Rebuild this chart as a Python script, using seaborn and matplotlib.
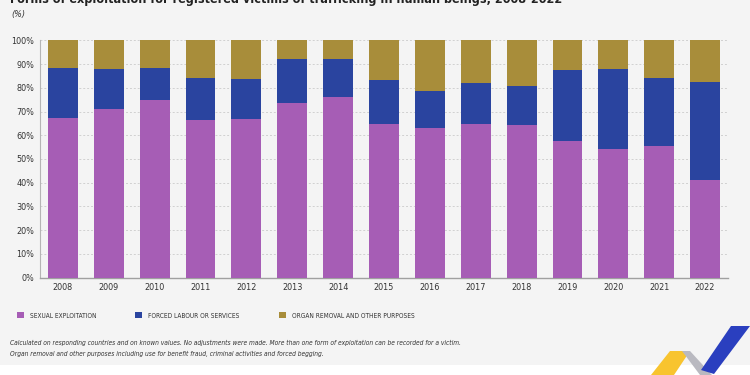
import numpy as np
import pandas as pd
import matplotlib
matplotlib.use('Agg')
import matplotlib.pyplot as plt
from matplotlib.patches import Polygon, Rectangle, Patch
import seaborn as sns

# --- data (% of registered victims) ---
years = ['2008', '2009', '2010', '2011', '2012', '2013', '2014', '2015',
         '2016', '2017', '2018', '2019', '2020', '2021', '2022']
sexual = [67.4, 71.2, 74.9, 66.4, 66.7, 73.5, 76.0, 64.7, 62.9, 64.6, 64.2, 57.6, 54.1, 55.5, 41.2]
forced = [20.8, 16.7, 13.6, 17.6, 17.0, 18.5, 16.1, 18.6, 15.7, 17.3, 16.6, 29.9, 33.9, 28.5, 41.1]
other = [11.8, 12.1, 11.5, 16.0, 16.3, 8.0, 7.9, 16.7, 21.4, 18.1, 19.2, 12.5, 12.0, 16.0, 17.7]
series = ['SEXUAL EXPLOITATION', 'FORCED LABOUR OR SERVICES', 'ORGAN REMOVAL AND OTHER PURPOSES']
colors = ['#a65db5', '#2a449f', '#a88d3a']

title = 'Forms of exploitation for registered victims of trafficking in human beings, 2008-2022'
unit = '(%)'
note1 = ('Calculated on responding countries and on known values. No adjustments were made. '
         'More than one form of exploitation can be recorded for a victim.')
note2 = 'Organ removal and other purposes including use for benefit fraud, criminal activities and forced begging.'

sns.set_style('white')
plt.rcParams['font.family'] = ['DejaVu Sans']
plt.rcParams['font.stretch'] = 'condensed'
bg = '#f4f4f4'

df = pd.DataFrame({'year': years, 'sexual': sexual, 'forced': forced, 'other': other})
df['lvl1'] = df['sexual']
df['lvl2'] = df['sexual'] + df['forced']
df['lvl3'] = df['lvl2'] + df['other']

fig = plt.figure(figsize=(7.5, 3.75), dpi=100, facecolor=bg)
ax = fig.add_axes([40 / 750, 1 - 277.7 / 375, 688 / 750, 237.4 / 375])
ax.set_facecolor(bg)

# stacked bars: draw cumulative totals from the top down
for col, c in zip(['lvl3', 'lvl2', 'lvl1'], colors[::-1]):
    sns.barplot(data=df, x='year', y=col, color=c, width=0.65, saturation=1,
                linewidth=0, ax=ax, zorder=3)

ax.set_xlim(-0.5, len(years) - 0.5)
ax.set_ylim(0, 100)
ax.set_yticks(np.arange(0, 101, 10))
ax.set_yticklabels([f'{v}%' for v in range(0, 101, 10)])
ax.set_xlabel('')
ax.set_ylabel('')
ax.yaxis.grid(True, color='#d0d0d0', linestyle=(0, (2, 2)), linewidth=0.7, zorder=0)
ax.tick_params(axis='both', length=0, labelsize=6.5, colors='#333333', pad=4)
for s in ['top', 'right']:
    ax.spines[s].set_visible(False)
ax.spines['left'].set_color('#b5b5b5')
ax.spines['left'].set_linewidth(0.8)
ax.spines['bottom'].set_color('#a0a0a0')
ax.spines['bottom'].set_linewidth(1.0)

# title (partly cut off at the top in the reference) and unit
fig.text(10 / 750, 1 - 2.7 / 375, title, fontsize=9, fontweight='bold',
         color='#222222', va='baseline', ha='left')
fig.text(11 / 750, 1 - 14 / 375, unit, fontsize=6.5, style='italic',
         color='#333333', va='center', ha='left')

# legend
handles = [Patch(facecolor=c, edgecolor='none') for c in colors]
fig.legend(handles, series, loc='center left', bbox_to_anchor=(11 / 750, 1 - 315.5 / 375),
           ncol=3, frameon=False, fontsize=4.7, handlelength=1.07, handleheight=1.07,
           handletextpad=0.9, columnspacing=6.0, labelcolor='#333333')

# footnotes
fig.text(10 / 750, 1 - 342.5 / 375, note1, fontsize=4.8, style='italic', color='#333333', va='center')
fig.text(10 / 750, 1 - 354 / 375, note2, fontsize=4.8, style='italic', color='#333333', va='center')

# white strip at the bottom and the logo
fig.patches.append(Rectangle((0, 0), 1, 10 / 375, transform=fig.transFigure,
                             facecolor='white', edgecolor='none', zorder=0))

def px(pts):
    return [(x / 750, 1 - y / 375) for x, y in pts]

fig.patches.append(Polygon(px([(670, 351), (690, 351), (674, 375), (651, 375)]),
                           transform=fig.transFigure, facecolor='#f8c42f', edgecolor='none'))
fig.patches.append(Polygon(px([(682, 351), (690, 351), (712, 375), (700, 375)]),
                           transform=fig.transFigure, facecolor='#b9b9c0', edgecolor='none'))
fig.patches.append(Polygon(px([(731, 326), (750, 326), (714, 374), (701, 370)]),
                           transform=fig.transFigure, facecolor='#2a3fbf', edgecolor='none'))

fig.savefig('out.png', dpi=100, facecolor=bg)
